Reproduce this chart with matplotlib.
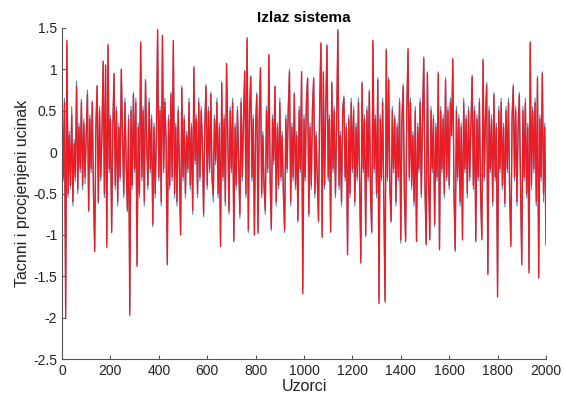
"""Izlaz sistema: true vs. estimated output over 2000 samples."""

import matplotlib

matplotlib.use("Agg")
import matplotlib.pyplot as plt

plt.rcParams["font.family"] = ["Liberation Sans", "DejaVu Sans"]

# sample index step used when reading the values off the picture
step = 5

# estimated output (red), one value every 5 samples, 0..2000
procjena = [
    0.5, -0.3, 0.6, -2.0, 1.35, -0.5, 0.2, -0.4, 0.45, -0.6, 0.1, -0.3, 0.8, -0.45, 0.3, -0.2, 0.6, -0.4, 0.35, -0.3,
    0.2, 0.7, -0.7, 0.4, -0.2, 0.6, -0.5, -1.2, 0.3, 0.8, -0.6, 0.5, -0.3, 0.2, 1.1, -0.5, 1.05, -1.15, 1.3, -0.2,
    0.4, -0.97, 0.3, 0.95, -0.4, 0.5, -0.6, 0.3, -0.3, 1.0, 0.2, -0.5, 0.6, -0.1, -0.69, 0.4, -1.97, 0.5, -0.4, 0.7,
    -0.2, 0.6, -1.38, 0.3, -0.5, 1.33, -0.3, 0.5, -0.6, 0.86, 0.1, -0.4, 0.6, -0.2, 0.4, -0.87, 0.3, -0.5, 0.2, 1.48,
    -0.3, 0.5, -0.6, 1.41, -0.2, 0.6, 0.1, -1.36, 0.4, -0.4, 0.7, -0.3, 1.35, -0.5, 0.3, -0.6, 0.5, -0.2, -1.0, 0.77,
    -0.3, 0.4, -0.5, 0.2, -0.2, 0.6, -0.4, 0.3, -0.7, 1.03, -0.1, 0.4, -0.5, 0.6, -0.3, 0.5, 0.1, -0.75, 0.3, 0.79,
    -0.4, 0.5, -0.2, 0.7, -0.3, -0.52, 0.4, -0.1, 0.6, -0.5, 0.3, -1.14, 0.83, -0.3, 0.4, -0.6, 1.07, 0.2, -0.71, 0.5,
    -0.2, 0.6, -1.08, 0.3, -0.4, 0.5, -0.1, -0.75, 0.6, -0.3, 0.4, 0.98, -0.5, 1.38, -0.94, 0.5, 0.91, -0.3, 0.4, -1.0,
    0.3, 0.69, -0.98, 0.4, 1.02, -0.5, 0.2, -0.4, -0.7, 0.5, -0.2, 1.18, -0.3, -0.92, 0.4, -0.1, 0.79, -0.6, 0.3, -0.4,
    0.6, -0.3, 0.2, -0.5, -0.94, 0.4, -0.2, 0.5, 0.97, -0.6, 0.3, -0.3, 0.7, -0.4, 0.2, -0.82, 0.5, -0.2, 0.97, -1.71,
    0.4, -0.3, 0.6, 0.89, -0.75, 0.3, -0.4, 0.5, 0.89, -0.5, 0.2, -0.3, -0.83, 0.6, 1.32, -1.03, 0.97, -0.4, 0.5, 1.28,
    -0.3, 0.4, -0.96, 0.83, -0.2, 0.5, -0.5, 0.3, 1.48, -0.4, 0.2, -0.6, 0.5, 0.65, -0.3, 0.3, -1.24, 0.4, -0.5, 0.6,
    -0.2, 0.5, -0.6, 0.3, -0.3, 0.6, -0.4, -1.34, 0.83, -0.2, 0.4, -1.0, 0.5, -0.3, 0.73, -0.5, -0.96, 1.35, -0.2, 0.4,
    -0.5, 0.87, -1.83, 0.4, -0.3, 0.6, -0.6, -1.81, 1.23, -0.3, 0.87, -0.4, -0.83, 0.5, -0.2, 0.4, -0.6, 0.3, -0.3, 0.6,
    -1.06, 0.4, 0.79, -0.5, -1.08, 0.5, 1.25, -0.3, 0.6, -0.4, 0.2, -0.6, 0.5, -1.08, 0.3, -0.2, 0.6, -0.5, 0.4, 1.13,
    -0.4, -1.12, 0.95, -0.3, -1.06, 0.5, -0.2, 0.4, -0.87, 0.3, -0.3, 0.95, -1.18, 0.5, -0.2, 0.4, -0.5, 0.87, -0.3, 0.5,
    -0.4, 0.6, 0.2, 1.13, -0.5, -1.18, 0.5, -0.3, 0.4, -0.6, 0.3, -1.06, 0.6, -0.2, 0.4, -0.5, 0.5, -0.3, 0.3, 0.91,
    -0.4, 0.5, -1.08, 0.4, -0.3, 0.6, -0.5, -1.06, 1.12, -0.3, 0.4, 0.81, -1.48, 0.5, -0.2, 0.4, -0.6, 0.69, -0.3, 0.3,
    -1.75, 0.5, -0.2, 0.6, -0.4, 0.3, -0.62, 0.5, -0.2, 0.6, -0.5, -1.14, 0.4, 0.79, -0.3, 0.5, -0.6, 0.3, 0.69, -0.4,
    -1.36, 0.5, -0.3, 0.6, -0.5, 0.3, -1.46, 1.33, -0.4, 0.5, -0.2, 0.6, -0.6, 0.89, -1.52, 0.4, -0.3, 0.95, -0.5, 0.3,
    -1.12,
]

# true output (blue), mostly hidden under the red line
tacni = [
    0.7, -0.35, 0.65, -1.9, 1.3, -0.55, 0.25, -0.45, 0.55, -0.65, 0.15, -0.35, 0.86, -0.5, 0.35, -0.25, 0.64, -0.45, 0.4, -0.38,
    0.25, 0.75, -0.72, 0.45, -0.25, 0.62, -0.55, -1.15, 0.35, 0.8, -0.62, 0.55, -0.35, 0.25, 1.08, -0.55, 1.05, -1.1, 1.28, -0.25,
    0.45, -0.95, 0.35, 0.95, -0.45, 0.55, -0.65, 0.35, -0.35, 1.0, 0.25, -0.55, 0.65, -0.15, -0.72, 0.45, -1.9, 0.55, -0.45, 0.72,
    -0.25, 0.65, -1.35, 0.35, -0.55, 1.3, -0.35, 0.55, -0.65, 0.88, 0.15, -0.45, 0.65, -0.25, 0.45, -0.9, 0.35, -0.55, 0.25, 1.45,
    -0.35, 0.55, -0.65, 1.38, -0.25, 0.65, 0.15, -1.33, 0.45, -0.45, 0.72, -0.35, 1.32, -0.55, 0.35, -0.65, 0.55, -0.25, -1.0, 0.8,
    -0.35, 0.45, -0.55, 0.25, -0.25, 0.65, -0.45, 0.35, -0.75, 1.0, -0.15, 0.45, -0.55, 0.65, -0.35, 0.55, 0.15, -0.78, 0.35, 0.82,
    -0.45, 0.55, -0.25, 0.72, -0.35, -0.6, 0.45, -0.15, 0.65, -0.55, 0.35, -1.1, 0.85, -0.35, 0.45, -0.65, 1.05, 0.25, -0.75, 0.55,
    -0.25, 0.65, -1.05, 0.35, -0.45, 0.55, -0.15, -0.8, 0.65, -0.35, 0.45, 0.95, -0.55, 1.35, -0.97, 0.55, 0.92, -0.35, 0.45, -1.0,
    0.35, 0.72, -0.95, 0.45, 1.0, -0.55, 0.25, -0.45, -0.75, 0.55, -0.25, 1.15, -0.35, -0.95, 0.45, -0.15, 0.8, -0.65, 0.35, -0.45,
    0.65, -0.35, 0.25, -0.55, -0.97, 0.45, -0.25, 0.55, 1.0, -0.65, 0.35, -0.35, 0.72, -0.45, 0.25, -0.85, 0.55, -0.25, 0.97, -1.65,
    0.45, -0.35, 0.65, 0.9, -0.78, 0.35, -0.45, 0.55, 0.9, -0.55, 0.25, -0.35, -0.85, 0.65, 1.3, -1.0, 0.95, -0.45, 0.55, 1.3,
    -0.35, 0.45, -0.97, 0.85, -0.25, 0.55, -0.55, 0.35, 1.45, -0.45, 0.25, -0.65, 0.55, 0.68, -0.35, 0.35, -1.2, 0.45, -0.55, 0.65,
    -0.25, 0.55, -0.65, 0.35, -0.35, 0.65, -0.45, -1.3, 0.85, -0.25, 0.45, -1.02, 0.55, -0.35, 0.75, -0.55, -0.98, 1.32, -0.25, 0.45,
    -0.55, 0.9, -1.78, 0.45, -0.35, 0.65, -0.65, -1.78, 1.25, -0.35, 0.9, -0.45, -0.85, 0.55, -0.25, 0.45, -0.65, 0.35, -0.35, 0.65,
    -1.1, 0.45, 0.82, -0.55, -1.05, 0.55, 1.22, -0.35, 0.65, -0.45, 0.25, -0.65, 0.55, -1.05, 0.35, -0.25, 0.65, -0.55, 0.45, 1.15,
    -0.45, -1.1, 0.97, -0.35, -1.05, 0.55, -0.25, 0.45, -0.9, 0.35, -0.35, 0.97, -1.15, 0.55, -0.25, 0.45, -0.55, 0.9, -0.35, 0.55,
    -0.45, 0.65, 0.25, 1.1, -0.55, -1.2, 0.55, -0.35, 0.45, -0.65, 0.35, -1.02, 0.65, -0.25, 0.45, -0.55, 0.55, -0.35, 0.35, 0.93,
    -0.45, 0.55, -1.05, 0.45, -0.35, 0.65, -0.55, -1.02, 1.1, -0.35, 0.45, 0.84, -1.45, 0.55, -0.25, 0.45, -0.65, 0.72, -0.35, 0.35,
    -1.7, 0.55, -0.25, 0.65, -0.45, 0.35, -0.66, 0.55, -0.25, 0.65, -0.55, -1.1, 0.45, 0.82, -0.35, 0.55, -0.65, 0.35, 0.72, -0.45,
    -1.33, 0.55, -0.35, 0.65, -0.55, 0.35, -1.42, 1.3, -0.45, 0.55, -0.25, 0.65, -0.65, 0.92, -1.48, 0.45, -0.35, 0.97, -0.6, 0.35,
    -1.05,
]

uzorci = [i * step for i in range(len(procjena))]

yticks = [-2.5, -2, -1.5, -1, -0.5, 0, 0.5, 1, 1.5]
ytick_labels = ["-2.5", "-2", "-1.5", "-1", "-0.5", "0", "0.5", "1", "1.5"]
xticks = list(range(0, 2001, 200))

fig = plt.figure(figsize=(5.64, 3.99), dpi=100)
ax = fig.add_axes([0.11, 0.1, 0.858, 0.83])

ax.plot(uzorci, tacni, color="#3a8ccc", linewidth=0.8)
ax.plot(uzorci, procjena, color="#ec1c24", linewidth=1.0)

ax.set_xlim(0, 2000)
ax.set_ylim(-2.5, 1.5)
ax.set_xticks(xticks)
ax.set_yticks(yticks)
ax.set_yticklabels(ytick_labels)

for side in ("top", "right"):
    ax.spines[side].set_visible(False)
for side in ("left", "bottom"):
    ax.spines[side].set_color("#555555")
    ax.spines[side].set_linewidth(0.8)
ax.tick_params(direction="in", length=3, color="#555555", labelsize=10, labelcolor="#222222")

ax.set_title("Izlaz sistema", fontsize=11, fontweight="bold", pad=4)
ax.set_xlabel("Uzorci", fontsize=11.5, color="#222222", labelpad=1)
ax.set_ylabel("Tacnni i procjenjeni ucinak", fontsize=11.5, color="#222222", labelpad=2)

fig.savefig("out.png", dpi=100)
plt.close(fig)
